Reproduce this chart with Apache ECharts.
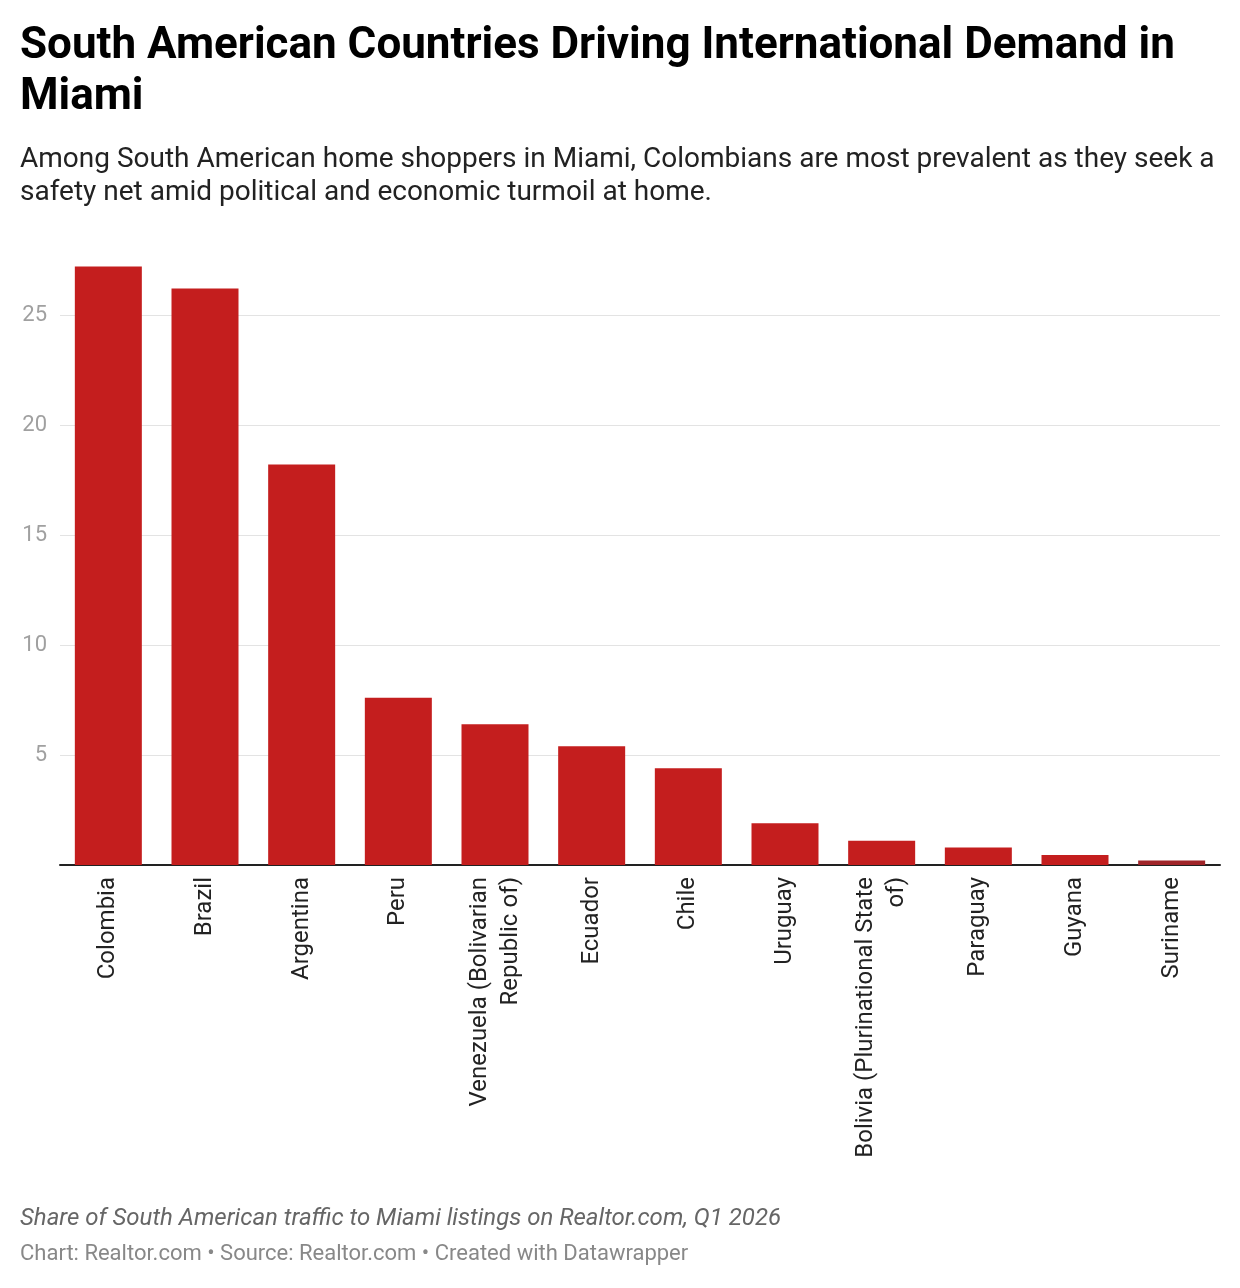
<!DOCTYPE html>
<html>
<head>
<meta charset="utf-8">
<script src="https://cdn.jsdelivr.net/npm/echarts@6/dist/echarts.min.js"></script>
<style>
  html, body { margin: 0; padding: 0; background: #fff; }
  #chart { width: 1240px; height: 1288px; }
</style>
</head>
<body>
<div id="chart"></div>
<script>
const countries = [
  'Colombia', 'Brazil', 'Argentina', 'Peru',
  'Venezuela (Bolivarian\nRepublic of)', 'Ecuador', 'Chile', 'Uruguay',
  'Bolivia (Plurinational State\nof)', 'Paraguay', 'Guyana', 'Suriname'
];
const shares = [27.2, 26.2, 18.2, 7.6, 6.4, 5.4, 4.4, 1.9, 1.1, 0.8, 0.45, 0.2];
const yTicks = [0, 5, 10, 15, 20, 25];

const font = 'Roboto, "Noto Sans", sans-serif';
const chart = echarts.init(document.getElementById('chart'));

const option = {
  animation: false,
  backgroundColor: '#fff',
  title: [
    {
      text: 'South American Countries Driving International Demand in\nMiami',
      left: 15, top: 16,
      textStyle: { fontFamily: font, fontSize: 44, fontWeight: 'bold', color: '#000', lineHeight: 51 }
    },
    {
      text: 'Among South American home shoppers in Miami, Colombians are most prevalent as they seek a\nsafety net amid political and economic turmoil at home.',
      left: 15, top: 138,
      textStyle: { fontFamily: font, fontSize: 28, fontWeight: 'normal', color: '#222', lineHeight: 33 }
    },
    {
      text: 'Share of South American traffic to Miami listings on Realtor.com, Q1 2026',
      left: 15, top: 1202,
      textStyle: { fontFamily: font, fontSize: 24, fontWeight: 'normal', fontStyle: 'italic', color: '#666' }
    },
    {
      text: 'Chart: Realtor.com \u2022 Source: Realtor.com \u2022 Created with Datawrapper',
      left: 15, top: 1238,
      textStyle: { fontFamily: font, fontSize: 22, fontWeight: 'normal', color: '#888' }
    }
  ],
  grid: { left: 60, right: 20, top: 260, bottom: 423, containLabel: false },
  xAxis: {
    type: 'category',
    data: countries,
    axisLine: { show: true, lineStyle: { color: '#222', width: 2 } },
    axisTick: { show: false },
    axisLabel: {
      rotate: 90,
      interval: 0,
      margin: 12,
      fontFamily: font,
      fontSize: 24,
      color: '#222',
      lineHeight: 31,
      align: 'right'
    }
  },
  yAxis: {
    type: 'value',
    min: 0,
    max: 27.5,
    interval: 5,
    axisLine: { show: false },
    axisTick: { show: false },
    axisLabel: {
      margin: 13,
      fontFamily: font,
      fontSize: 22,
      color: '#a0a0a0',
      showMaxLabel: false,
      formatter: v => (yTicks.includes(v) && v !== 0 ? String(v) : '')
    },
    splitLine: { show: true, showMinLine: false, showMaxLine: false, lineStyle: { color: '#e3e3e3', width: 1 } }
  },
  series: [{
    type: 'bar',
    data: shares.map((v, i) => ({
      value: v,
      itemStyle: { color: i === shares.length - 1 ? '#a02529' : '#c41e1e' }
    })),
    barWidth: 67,
    itemStyle: { color: '#c41e1e' }
  }]
};
chart.setOption(option);
window.onresize = function () { chart.resize(); };
</script>
</body>
</html>
